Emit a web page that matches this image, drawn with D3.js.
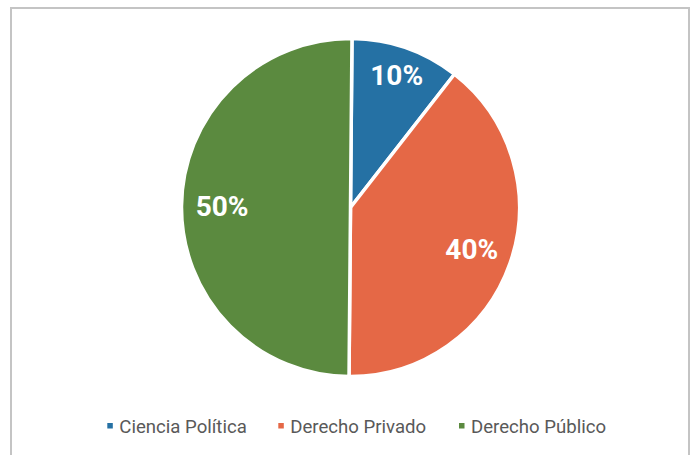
<!DOCTYPE html>
<html><head><meta charset="utf-8">
<script src="https://cdn.jsdelivr.net/npm/d3@7"></script>
<style>body{margin:0;background:#fff}svg{display:block}</style>
</head><body>
<svg id="c" width="691" height="455"></svg>
<script>
const categories = ["Ciencia Política", "Derecho Privado", "Derecho Público"];
const values = [10.4, 39.6, 50];
const labels = ["10%", "40%", "50%"];
const colors = ["#2571a4", "#e56846", "#5b8a3f"];

const svg = d3.select("#c");
svg.append("rect").attr("x", 11).attr("y", 8).attr("width", 678).attr("height", 452)
  .attr("fill", "#fff").attr("stroke", "#c4c4c4").attr("stroke-width", 2);

const cx = 350.5, cy = 207.5, r = 169;
const rot = 0.5 * Math.PI / 180;
const pie = d3.pie().sort(null).value(d => d).startAngle(rot).endAngle(2 * Math.PI + rot)(values);
const arc = d3.arc().innerRadius(0).outerRadius(r);
const g = svg.append("g").attr("transform", `translate(${cx},${cy})`);
g.selectAll("path").data(pie).join("path")
  .attr("d", arc).attr("fill", (d, i) => colors[i])
  .attr("stroke", "#fff").attr("stroke-width", 3.5).attr("stroke-linejoin", "round");

const labelRadius = [0.83, 0.76, 0.76];
g.selectAll("text").data(pie).join("text")
  .attr("transform", (d, i) => {
    const a = (d.startAngle + d.endAngle) / 2, rr = r * labelRadius[i];
    return `translate(${rr * Math.sin(a)},${-rr * Math.cos(a)})`;
  })
  .attr("text-anchor", "middle").attr("dominant-baseline", "central")
  .attr("font-family", "Roboto, sans-serif").attr("font-weight", "bold").attr("font-size", 28)
  .attr("fill", "#fff").text((d, i) => labels[i]);

const legendX = [107.3, 278.3, 459];
const lg = svg.append("g");
categories.forEach((c, i) => {
  lg.append("rect").attr("x", legendX[i]).attr("y", 423).attr("width", 5.5).attr("height", 5.5).attr("fill", colors[i]);
  lg.append("text").attr("x", legendX[i] + 12).attr("y", 432.5)
    .attr("font-family", "Roboto, sans-serif").attr("font-size", 18.6).attr("fill", "#595959").text(c);
});
</script>
</body></html>
